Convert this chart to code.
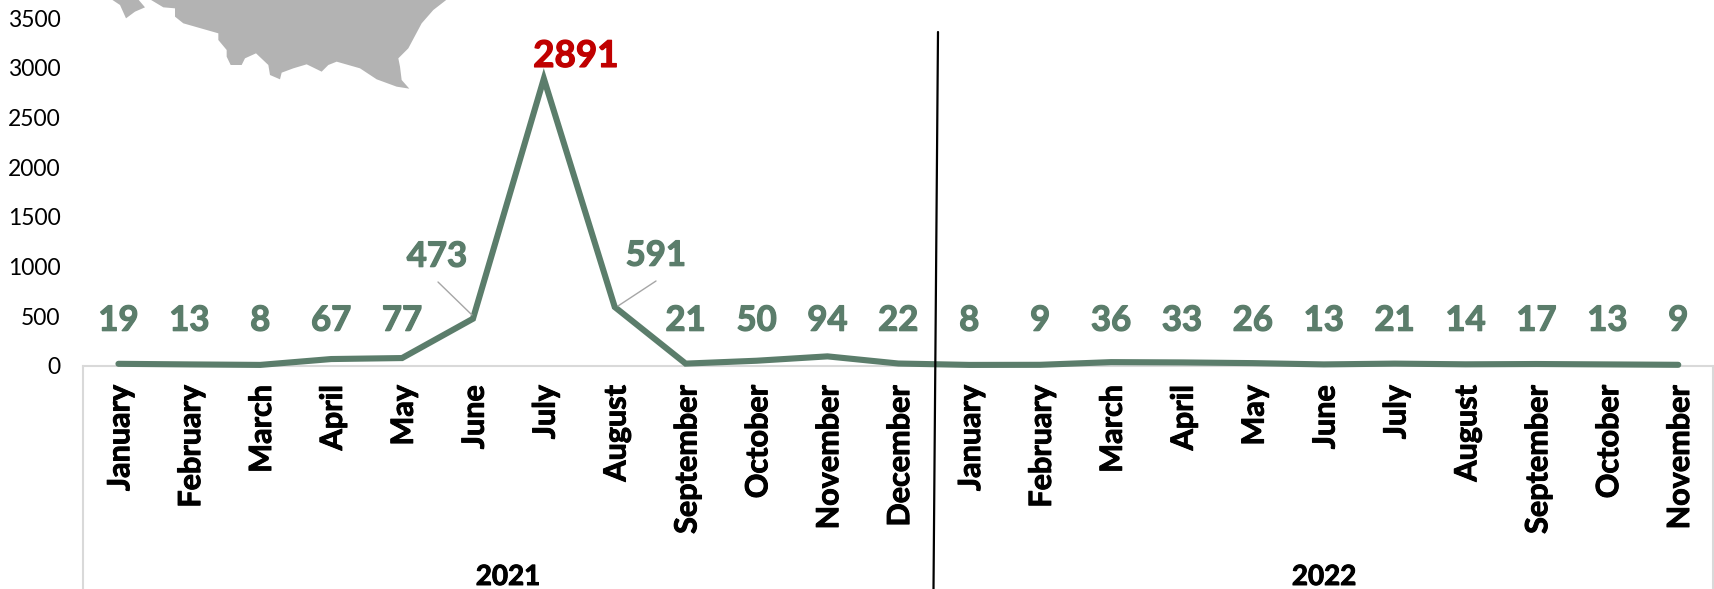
import numpy as np, pandas as pd, matplotlib.pyplot as plt, seaborn as sns
from matplotlib.lines import Line2D
from matplotlib.patches import Polygon
from matplotlib import patheffects as pe

months = ["January","February","March","April","May","June","July","August","September",
          "October","November","December","January","February","March","April","May","June",
          "July","August","September","October","November"]
years = ["2021"] * 12 + ["2022"] * 11
values = [19,13,8,67,77,473,2891,591,21,50,94,22,8,9,36,33,26,13,21,14,17,13,9]
yticks = [0,500,1000,1500,2000,2500,3000,3500]

sns.set_theme(style="white")
plt.rcParams["font.family"] = ["Lato", "DejaVu Sans"]
W, H = 1714, 589
GREEN = "#5b7d6b"

df = pd.DataFrame({"pos": range(len(values)), "month": months, "year": years, "count": values})

fig = plt.figure(figsize=(W / 100, H / 100), dpi=100, facecolor="white")
ax = fig.add_axes([83 / W, 1 - 365.7 / H, 1630 / W, (365.7 - 18.2) / H])

# map silhouette behind the chart, traced in pixels of the figure
def px(points):
    return [(x / 3 / W, 1 - y / 3 / H) for x, y in points]

map_small = [(330,-5),(360,15),(378,55),(405,35),(435,22),(412,-5)]
map_main = [(445,-5),(490,22),(525,25),(525,50),(550,70),(655,100),(655,120),(680,150),(680,170),
            (692,195),(725,195),(735,175),(768,160),(805,195),(810,225),(840,238),(845,218),(880,205),
            (920,193),(965,215),(985,195),(1010,185),(1080,205),(1130,238),(1190,260),(1228,266),
            (1205,240),(1200,200),(1195,175),(1225,145),(1265,70),(1300,30),(1345,-5)]
for shape in [map_small, map_main]:
    fig.add_artist(Polygon(px(shape), closed=True, transform=fig.transFigure, fc="#b3b3b3", ec="none", zorder=-1))
ax.patch.set_alpha(0)

sns.lineplot(data=df, x="pos", y="count", ax=ax, color=GREEN, linewidth=4.4,
             solid_capstyle="round", solid_joinstyle="miter", clip_on=False, zorder=5)

# thin stroke, Lato's bold is lighter than the reference face
thick = [pe.withStroke(linewidth=0.7, foreground="black")]

ax.set_xlim(-0.5, 22.49)
ax.set_ylim(0, 3500)
ax.set_yticks(yticks)
ax.set_xticks(df["pos"] + 0.025, months, rotation=90, fontweight="bold", fontsize=22, color="black")
ax.set_xlabel(""); ax.set_ylabel("")
ax.tick_params(axis="x", length=0, pad=14)
ax.tick_params(axis="y", length=0, pad=16, labelsize=16.5, labelcolor="black")
for lbl in ax.get_xticklabels():
    lbl.set_verticalalignment("top")
    lbl.set_path_effects(thick)
for s in ["top", "left", "right"]:
    ax.spines[s].set_visible(False)
ax.spines["bottom"].set_color("#d9d9d9"); ax.spines["bottom"].set_linewidth(1.5)

# data labels, mostly in one row above the axis (offsets in pixels)
offsets = {5: (-36, 109), 7: (41, 110)}
for i, v in enumerate(values):
    if i == 6:
        t = ax.annotate(str(v), (i, v), xytext=(23, 16), textcoords="offset points", ha="center", va="center",
                        fontsize=26.5, fontweight="bold", color="#c00000", annotation_clip=False)
        t.set_path_effects([pe.withStroke(linewidth=0.9, foreground="#c00000")])
        continue
    dx, dy = offsets.get(i, (0, 45))
    t = ax.annotate(str(v), (i, 0), xytext=(dx * 0.72, dy * 0.72), textcoords="offset points",
                    ha="center", va="center", fontsize=25, fontweight="bold", color=GREEN, annotation_clip=False)
    t.set_path_effects([pe.withStroke(linewidth=0.9, foreground=GREEN)])

# leader lines and the frame under the axis
def fig_line(x0, y0, x1, y1, **kw):
    fig.add_artist(Line2D([x0 / W, x1 / W], [1 - y0 / H, 1 - y1 / H], transform=fig.transFigure, **kw))

fig_line(438, 282, 472, 315, color="#a6a6a6", lw=1)
fig_line(656, 281, 618, 306, color="#a6a6a6", lw=1)
fig_line(83, 365.7, 83, 589, color="#d9d9d9", lw=1.5)
fig_line(1713, 365.7, 1713, 589, color="#d9d9d9", lw=1.5)
fig_line(938, 32, 933.5, 589, color="black", lw=1.6, zorder=6)

# year labels
for yr, group in df.groupby("year"):
    xc = {"2021": 508, "2022": 1324}[yr]
    t = fig.text(xc / W, 1 - 577 / H, yr, ha="center", va="center", fontsize=20, fontweight="bold", color="black")
    t.set_path_effects(thick)

plt.savefig("out.png", dpi=100)
plt.close()
